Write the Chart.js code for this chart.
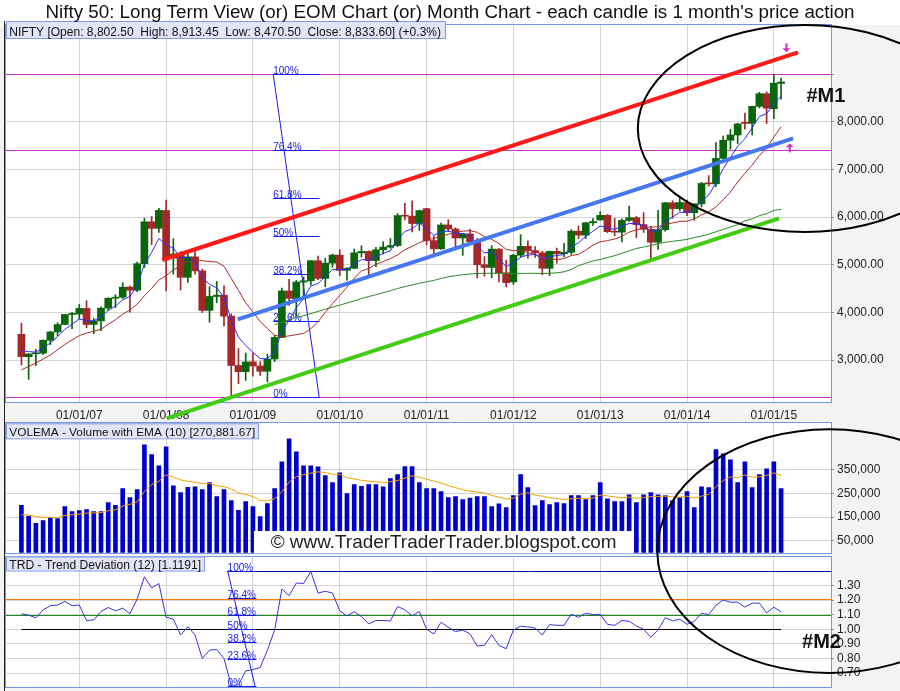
<!DOCTYPE html>
<html>
<head>
<meta charset="utf-8">
<title>Nifty 50 - monthly candles</title>
<script src="https://cdn.jsdelivr.net/npm/chart.js@4.4.1/dist/chart.umd.min.js"></script>
<style>
  html, body { margin: 0; padding: 0; background: #f3f3f3; }
  #page { position: relative; width: 900px; height: 691px; background: #f3f3f3; overflow: hidden; }
  #band { position: absolute; left: 0; top: 0; width: 900px; height: 25px; background: #fff; }
  #edge { position: absolute; left: 4px; top: 21px; width: 1px; height: 670px; background: #222; }
  canvas { position: absolute; left: 0; }
</style>
</head>
<body>
<div id="page">
  <div id="band"></div>
  <div id="edge"></div>
  <canvas id="price" width="900" height="421" style="top:0px"></canvas>
  <canvas id="volume" width="900" height="153" style="top:411px"></canvas>
  <canvas id="trd" width="900" height="147" style="top:544px"></canvas>
</div>
<script>
var FONT = '"Liberation Sans", Arial, sans-serif';
Chart.defaults.font.family = FONT;
Chart.defaults.font.size = 12;
Chart.defaults.color = '#222';

// ---- data (monthly, May 2006 .. Feb 2015) ----
var months = [
  '2006-05','2006-06','2006-07','2006-08','2006-09','2006-10','2006-11','2006-12',
  '2007-01','2007-02','2007-03','2007-04','2007-05','2007-06','2007-07','2007-08','2007-09','2007-10','2007-11','2007-12',
  '2008-01','2008-02','2008-03','2008-04','2008-05','2008-06','2008-07','2008-08','2008-09','2008-10','2008-11','2008-12',
  '2009-01','2009-02','2009-03','2009-04','2009-05','2009-06','2009-07','2009-08','2009-09','2009-10','2009-11','2009-12',
  '2010-01','2010-02','2010-03','2010-04','2010-05','2010-06','2010-07','2010-08','2010-09','2010-10','2010-11','2010-12',
  '2011-01','2011-02','2011-03','2011-04','2011-05','2011-06','2011-07','2011-08','2011-09','2011-10','2011-11','2011-12',
  '2012-01','2012-02','2012-03','2012-04','2012-05','2012-06','2012-07','2012-08','2012-09','2012-10','2012-11','2012-12',
  '2013-01','2013-02','2013-03','2013-04','2013-05','2013-06','2013-07','2013-08','2013-09','2013-10','2013-11','2013-12',
  '2014-01','2014-02','2014-03','2014-04','2014-05','2014-06','2014-07','2014-08','2014-09','2014-10','2014-11','2014-12',
  '2015-01','2015-02'
];

var openP = [
  3540,3070,3130,3144,3413,3590,3745,3956,3966,4083,
  3747,3821,4089,4297,4318,4530,4465,5022,5900,5763,
  6137,5137,5223,4735,5165,4870,4041,4333,4360,3921,
  2885,2755,2963,2874,2763,3021,3474,4450,4292,4636,
  4662,5083,4712,5032,5201,4882,4923,5249,5278,5087,
  5313,5368,5402,6030,6018,5863,6177,5506,5333,5834,
  5749,5560,5647,5482,5001,4943,5327,4832,4640,5199,
  5385,5296,5248,4924,5279,5229,5259,5703,5620,5880,
  5938,6035,5693,5683,5930,5986,5842,5742,5472,5735,
  6299,6176,6301,6090,6277,6704,6696,7230,7611,7721,
  7970,7965,8322,8588,8272,8802.5
];
var highP = [
  3774,3134,3226,3426,3603,3782,3961,3998,4167,4245,
  3875,4117,4307,4370,4620,4550,5055,5976,6011,6185,
  6357,5545,5272,5230,5298,4908,4539,4649,4558,3969,
  3240,3147,3147,2969,3123,3517,4509,4693,4670,4743,
  5087,5181,5138,5221,5311,4938,5329,5399,5290,5366,
  5477,5549,6073,6285,6338,6147,6182,5600,5872,5944,
  5775,5657,5740,5551,5169,5399,5340,5099,5217,5630,
  5499,5379,5279,5286,5348,5448,5735,5815,5885,5965,
  6112,6053,5971,5962,6229,6012,6093,5808,6142,6309,
  6342,6415,6358,6282,6730,6870,7563,7700,7841,7968,
  8180,8330,8617,8627,8996,8913.45
];
var lowP = [
  2896,2595,2879,3113,3323,3507,3739,3657,3862,3675,
  3554,3617,4045,4100,4290,4002,4433,4940,5419,5676,
  4448,4803,4468,4628,4801,3996,3791,4201,3715,2252,
  2502,2570,2661,2677,2539,2965,3468,4143,3918,4353,
  4576,4687,4538,4944,4766,4675,4918,5160,4786,4961,
  5225,5349,5380,5937,5690,5721,5416,5178,5320,5693,
  5328,5196,5453,4720,4758,4728,4640,4531,4588,5159,
  5135,5154,4788,4770,5032,5164,5215,5548,5548,5823,
  5935,5671,5604,5477,5910,5566,5676,5119,5318,5701,
  5972,6130,6027,5933,6212,6650,6638,7220,7422,7541,
  7841,7724,8290,7961,8065,8470.5
];
var closeP = [
  3071,3128,3143,3413,3588,3744,3955,3966,4082,3745,
  3822,4087,4296,4318,4529,4464,5021,5900,5762,6139,
  5137,5224,4735,5165,4870,4041,4333,4360,3921,2885,
  2755,2959,2874,2763,3021,3474,4449,4291,4636,4662,
  5084,4712,5033,5201,4882,4922,5249,5278,5087,5313,
  5368,5402,6030,6018,5863,6135,5506,5333,5834,5749,
  5560,5647,5482,5001,4943,5327,4832,4624,5199,5385,
  5296,5248,4924,5279,5229,5259,5703,5620,5880,5905,
  6035,5693,5683,5930,5986,5842,5742,5472,5735,6299,
  6176,6304,6090,6277,6704,6696,7230,7611,7721,7954,
  7965,8322,8588,8283,8809,8833.6
];
// thin blue average
var fastAvg = [
  3200,3176,3165,3248,3361,3489,3644,3751,3861,3822,
  3822,3910,4039,4132,4264,4331,4561,5007,5259,5552,
  5414,5351,5146,5152,5058,4719,4590,4513,4316,3839,
  3478,3305,3161,3028,3026,3175,3600,3830,4099,4287,
  4553,4606,4748,4899,4893,4903,5018,5105,5099,5170,
  5236,5291,5537,5697,5752,5880,5755,5614,5687,5708,
  5659,5655,5597,5398,5246,5273,5126,4959,5039,5154,
  5201,5217,5119,5172,5191,5214,5377,5458,5599,5701,
  5812,5772,5742,5805,5865,5857,5819,5703,5714,5909,
  5998,6100,6097,6157,6339,6458,6715,7014,7250,7485,
  7645,7871,8110,8168,8382,8533
];
// thin red average
var midAvg = [
  2791,2866,2935,3021,3103,3218,3326,3420,3511,3566,
  3601,3645,3747,3847,3962,4050,4169,4349,4499,4680,
  4768,4892,4968,5058,5105,5082,5066,5057,4966,4714,
  4464,4199,4010,3805,3662,3521,3486,3507,3532,3558,
  3654,3807,3997,4183,4351,4531,4716,4867,4920,5005,
  5066,5128,5206,5315,5384,5462,5514,5549,5597,5637,
  5676,5704,5713,5680,5589,5532,5446,5320,5294,5299,
  5254,5212,5159,5128,5107,5129,5192,5217,5304,5411,
  5480,5506,5538,5595,5684,5730,5773,5791,5794,5850,
  5875,5908,5913,5961,6046,6110,6214,6361,6526,6733,
  6919,7088,7289,7453,7680,7893
];
// thin green average (starts Apr 2009)
var slowAvg = Array(35).fill(null).concat([
  3740,3790,3840,3890,3930,
  3975,4020,4065,4110,4150,4195,4240,4290,4330,4370,
  4410,4455,4500,4540,4575,4610,4640,4670,4710,4745,
  4770,4790,4805,4815,4818,4820,4818,4815,4815,4818,
  4818,4820,4815,4818,4830,4850,4900,4980,5030,5080,
  5110,5150,5190,5240,5290,5340,5370,5400,5440,5470,
  5490,5510,5530,5570,5600,5640,5690,5740,5790,5840,
  5920,5960,6030,6070,6140,6160
]);
var volume = [
  200000,154000,124000,135000,148000,144000,195000,173000,178000,182000,
  173000,173000,212000,200000,271000,233000,267000,457000,415000,368000,
  448000,283000,254000,276000,279000,267000,296000,237000,267000,220000,
  179000,216000,195000,152000,207000,271000,385000,482000,427000,368000,
  368000,363000,326000,296000,338000,250000,288000,281000,288000,288000,
  279000,313000,330000,364000,364000,296000,271000,271000,258000,233000,
  237000,224000,231000,237000,237000,195000,206000,190000,241000,330000,
  275000,199000,220000,203000,212000,207000,241000,241000,224000,241000,
  296000,228000,216000,216000,245000,212000,245000,254000,245000,241000,
  220000,233000,258000,190000,279000,275000,436000,419000,393000,296000,
  385000,275000,330000,355000,385000,270882
];
var volumeEma = [
  160000,159000,153000,149000,149000,148000,157000,160000,163000,167000,
  168000,169000,177000,181000,197000,204000,215000,259000,288000,302000,
  329000,320000,308000,302000,298000,292000,293000,283000,280000,269000,
  253000,246000,237000,221000,219000,228000,257000,298000,321000,330000,
  337000,342000,339000,331000,332000,317000,312000,306000,303000,300000,
  297000,300000,305000,316000,325000,319000,311000,303000,295000,284000,
  275000,266000,260000,256000,252000,242000,235000,227000,230000,248000,
  253000,243000,239000,232000,229000,225000,228000,230000,229000,231000,
  243000,240000,236000,232000,235000,230000,233000,237000,238000,239000,
  236000,235000,239000,230000,239000,246000,280000,305000,321000,317000,
  329000,319000,321000,327000,338000,326000
];
var trendDev = [
  1.106,1.097,1.078,1.133,1.161,1.166,1.191,1.161,1.166,1.060,
  1.064,1.122,1.149,1.126,1.145,1.106,1.207,1.359,1.283,1.313,
  1.083,1.069,0.961,1.018,0.961,0.800,0.857,0.862,0.800,0.616,
  0.620,0.715,0.724,0.738,0.857,0.995,1.276,1.230,1.317,1.313,
  1.395,1.248,1.260,1.248,1.126,1.092,1.120,1.087,1.037,1.060,
  1.060,1.057,1.156,1.133,1.092,1.122,1.000,0.968,1.048,1.014,
  0.984,0.995,0.968,0.886,0.890,0.963,0.890,0.867,0.995,1.021,
  1.016,1.009,0.961,1.032,1.027,1.027,1.103,1.082,1.110,1.100,
  1.103,1.034,1.027,1.060,1.055,1.023,1.000,0.945,0.995,1.080,
  1.057,1.069,1.034,1.053,1.110,1.100,1.165,1.200,1.185,1.185,
  1.151,1.179,1.179,1.112,1.151,1.119
];

var xTickIdx = [8, 20, 32, 44, 56, 68, 80, 92, 104];
var xTickLabels = ['01/01/07','01/01/08','01/01/09','01/01/10','01/01/11','01/01/12','01/01/13','01/01/14','01/01/15'];
var priceGrid = [3000, 4000, 5000, 6000, 7000, 8000, 9000];
var priceTicks = [3000, 4000, 5000, 6000, 7000, 8000];
var volTicks = [50000, 150000, 250000, 350000];
var trdTicks = [0.7, 0.8, 0.9, 1.0, 1.1, 1.2, 1.3];
var fibPct = [0, 23.6, 38.2, 50, 61.8, 76.4, 100];
var priceLevels = [9000, 7400, 2218];

// ---- drawings (data units) ----
var trendLines = [
  { color: '#ff1a1a', from: [19.47, 5098], to: [107.35, 9456] },
  { color: '#4676f0', from: [29.89, 3854], to: [106.66, 7652] },
  { color: '#44cc14', from: [20.08, 1777], to: [104.72, 5973] }
];
var priceFib = { x0: 34.8, x1: 41.2, diagEnd: 41.16, low: 2218, high: 9000 };
var trdFib = { x0: 28.5, x1: 32.5, diagEnd: 32.3, low: 0.61, high: 1.40 };
var priceEllipse = { x: 108.3, y: 7857, rx: 23.1, ry: 2172 };
var lowerEllipse = { x: 111.7, y: 6000, rx: 23.8, ry: 517000 };
var priceArrows = [ { x: 105.75, from: 9644, to: 9455 }, { x: 106.2, from: 7358, to: 7547 } ];

var X_MIN = -2.13, X_MAX = 111.9;
var TOP_P = 0, TOP_V = 411, TOP_T = 544;
var UP = '#0b650b', DOWN = '#a3282a';
var candleColors = closeP.map(function (c, i) { return c >= openP[i] ? UP : DOWN; });

function pts(arr) { return arr.map(function (v, i) { return { x: i, y: v }; }); }
function fmt2(v) { return v.toLocaleString('en-US', { minimumFractionDigits: 2, maximumFractionDigits: 2 }); }

function fitFont(g, text, width, weight) {
  g.font = weight + ' 12px ' + FONT;
  var s = 12 * width / g.measureText(text).width;
  g.font = weight + ' ' + s.toFixed(2) + 'px ' + FONT;
}

function headerBox(g, left, top, w, h, text, textW) {
  g.fillStyle = '#e4e4f7';
  g.fillRect(left, top, w, h);
  g.strokeStyle = '#7d9be6';
  g.lineWidth = 1;
  g.strokeRect(left + 0.5, top + 0.5, w, h);
  fitFont(g, text, textW, 'normal');
  g.fillStyle = '#111';
  g.textBaseline = 'alphabetic';
  g.textAlign = 'left';
  g.fillText(text, left + 3.3, top + h - 2);
}

function hLine(g, x0, x1, py, color) {
  py = Math.round(py) + 0.5;
  g.strokeStyle = color;
  g.lineWidth = 1;
  g.beginPath(); g.moveTo(x0, py); g.lineTo(x1, py); g.stroke();
}

function drawFib(c, f) {
  var g = c.ctx, x = c.scales.x, y = c.scales.y;
  var x0 = x.getPixelForValue(f.x0), x1 = x.getPixelForValue(f.x1);
  g.font = '10px ' + FONT;
  g.textBaseline = 'alphabetic';
  g.textAlign = 'left';
  fibPct.forEach(function (p) {
    var py = y.getPixelForValue(f.low + (f.high - f.low) * p / 100);
    hLine(g, x0, x1, py, '#1a1ae6');
    g.fillStyle = '#1a1ae6';
    g.fillText(p + '%', x0, Math.round(py) - 0.5);
  });
  g.beginPath();
  g.moveTo(x0, y.getPixelForValue(f.high));
  g.lineTo(x.getPixelForValue(f.diagEnd), y.getPixelForValue(f.low));
  g.stroke();
}

function drawArrow(g, px, yTail, yTip) {
  var d = yTip > yTail ? 1 : -1;
  g.fillStyle = '#cc33cc';
  g.strokeStyle = '#cc33cc';
  g.lineWidth = 2;
  g.beginPath(); g.moveTo(px, yTail); g.lineTo(px, yTip - d * 3); g.stroke();
  g.beginPath();
  g.moveTo(px - 4, yTip - d * 4); g.lineTo(px + 4, yTip - d * 4); g.lineTo(px, yTip);
  g.closePath(); g.fill();
}

function ellipsePx(chart, e) {
  var x = chart.scales.x, y = chart.scales.y;
  var cy = y.getPixelForValue(e.y);
  return {
    cx: x.getPixelForValue(e.x), cy: cy,
    rx: e.rx * (x.getPixelForValue(1) - x.getPixelForValue(0)),
    ry: Math.abs(y.getPixelForValue(e.y + e.ry) - cy)
  };
}

function strokeEllipse(g, p) {
  g.strokeStyle = '#000';
  g.lineWidth = 2;
  g.beginPath();
  g.ellipse(p.cx, p.cy, p.rx, p.ry, 0, 0, Math.PI * 2);
  g.stroke();
}

var frame = {
  id: 'frame',
  beforeDraw: function (c) {
    var a = c.chartArea, g = c.ctx;
    g.save();
    g.fillStyle = '#fff';
    g.fillRect(a.left, a.top, a.right - a.left, a.bottom - a.top);
    g.restore();
  },
  beforeDatasetsDraw: function (c) {
    var a = c.chartArea, g = c.ctx;
    g.save();
    g.strokeStyle = '#7397e8';
    g.lineWidth = 1;
    g.strokeRect(Math.round(a.left) - 0.5, Math.round(a.top) - 0.5,
                 Math.round(a.right - a.left) + 1, Math.round(a.bottom - a.top) + 1);
    g.restore();
  }
};

function xScale(showLabels, height) {
  return {
    type: 'linear', min: X_MIN, max: X_MAX, offset: false,
    afterBuildTicks: function (s) { s.ticks = xTickIdx.map(function (v) { return { value: v }; }); },
    ticks: {
      display: showLabels, autoSkip: false, maxRotation: 0, padding: 6, color: '#222',
      callback: function (v) { return xTickLabels[xTickIdx.indexOf(v)]; }
    },
    grid: { color: '#d4d4d4', drawTicks: false, offset: false },
    border: { display: false },
    afterFit: function (s) { s.height = height; s.paddingLeft = 0; s.paddingRight = 0; }
  };
}

function yScale(min, max, grid, labelFn) {
  return {
    position: 'right', min: min, max: max, beginAtZero: false,
    afterBuildTicks: function (s) { s.ticks = grid.map(function (v) { return { value: v }; }); },
    ticks: { callback: labelFn, padding: 3, color: '#222' },
    grid: { color: '#d4d4d4', tickLength: 3, tickColor: '#7397e8' },
    border: { display: false },
    afterFit: function (s) { s.width = 69; s.paddingTop = 0; s.paddingBottom = 0; }
  };
}

var baseOptions = function (top, scales) {
  return {
    responsive: false, animation: false, events: [],
    layout: { padding: { top: top, left: 6, right: 0, bottom: 0 } },
    plugins: { legend: { display: false }, tooltip: { enabled: false } },
    scales: scales
  };
};

// ---- price panel ----
var priceDeco = {
  id: 'priceDeco',
  beforeDatasetsDraw: function (c) {
    var g = c.ctx, a = c.chartArea, y = c.scales.y;
    g.save();
    priceLevels.forEach(function (v) { hLine(g, a.left, a.right, y.getPixelForValue(v), '#cc33cc'); });
    drawFib(c, priceFib);
    g.restore();
  },
  afterDraw: function (c) {
    var g = c.ctx, x = c.scales.x, y = c.scales.y, a = c.chartArea;
    g.save();
    strokeEllipse(g, ellipsePx(c, priceEllipse));
    priceArrows.forEach(function (ar) {
      drawArrow(g, x.getPixelForValue(ar.x), y.getPixelForValue(ar.from), y.getPixelForValue(ar.to));
    });
    g.fillStyle = '#111';
    g.font = 'bold 20px ' + FONT;
    g.textBaseline = 'alphabetic';
    g.textAlign = 'left';
    g.fillText('#M1', x.getPixelForValue(108.5), y.getPixelForValue(8420));
    headerBox(g, a.left, a.top - 4, 439, 17,
      'NIFTY [Open: 8,802.50  High: 8,913.45  Low: 8,470.50  Close: 8,833.60] (+0.3%)', 432);
    var title = "Nifty 50: Long Term View (or) EOM Chart (or) Month Chart - each candle is 1 month's price action";
    fitFont(g, title, 810, 'normal');
    g.fillStyle = '#111';
    g.textAlign = 'center';
    g.fillText(title, 450, 17.5);
    g.restore();
  }
};

var priceSets = trendLines.map(function (t) {
  return {
    type: 'line', data: [{ x: t.from[0], y: t.from[1] }, { x: t.to[0], y: t.to[1] }],
    borderColor: t.color, borderWidth: 4, pointRadius: 0, clip: false, order: 0
  };
}).concat([
  { type: 'line', data: pts(fastAvg), borderColor: '#2b2bff', borderWidth: 1, pointRadius: 0, order: 2 },
  { type: 'line', data: pts(midAvg), borderColor: '#b02a2a', borderWidth: 1, pointRadius: 0, order: 2 },
  { type: 'line', data: pts(slowAvg), borderColor: '#2a8a2a', borderWidth: 1, pointRadius: 0, order: 2 },
  { data: months.map(function (m, i) { return { x: i, y: [openP[i], closeP[i]] }; }),
    backgroundColor: candleColors, barThickness: 7, grouped: false, minBarLength: 1, order: 3 },
  { data: months.map(function (m, i) { return { x: i, y: [lowP[i], highP[i]] }; }),
    backgroundColor: candleColors, barThickness: 1, grouped: false, order: 4 }
]);

var priceChart = new Chart(document.getElementById('price'), {
  type: 'bar',
  data: { datasets: priceSets },
  options: baseOptions(25, {
    x: xScale(true, 19),
    y: yScale(2119, 10029, priceGrid, function (v) { return priceTicks.indexOf(v) >= 0 ? fmt2(v) : ''; })
  }),
  plugins: [frame, priceDeco]
});

// ---- volume panel ----
var volDeco = {
  id: 'volDeco',
  afterDatasetsDraw: function (c) {
    var g = c.ctx, x = c.scales.x, a = c.chartArea;
    var x0 = x.getPixelForValue(32.14), x1 = x.getPixelForValue(84.6);
    g.save();
    g.fillStyle = '#fff';
    g.fillRect(x0, a.bottom - 22.3, x1 - x0, 22.3);
    var wm = '\u00a9 www.TraderTraderTrader.blogspot.com';
    fitFont(g, wm, 346, 'normal');
    g.fillStyle = '#222';
    g.textBaseline = 'alphabetic';
    g.textAlign = 'left';
    g.fillText(wm, x.getPixelForValue(34.45), a.bottom - 5.3);
    g.restore();
  },
  afterDraw: function (c) {
    var g = c.ctx, a = c.chartArea;
    g.save();
    headerBox(g, a.left, a.top, 252, 15, 'VOLEMA - Volume with EMA (10) [270,881.67]', 246);
    g.beginPath();
    g.rect(0, 0, 900, 554 - TOP_V);
    g.clip();
    strokeEllipse(g, ellipsePx(c, lowerEllipse));
    g.restore();
  }
};

var volChart = new Chart(document.getElementById('volume'), {
  type: 'bar',
  data: {
    datasets: [
      { type: 'line', data: pts(volumeEma), borderColor: '#f5a300', borderWidth: 1, pointRadius: 0, order: 0 },
      { data: pts(volume), backgroundColor: '#0000cc', barThickness: 4, order: 1 }
    ]
  },
  options: baseOptions(12.3, {
    x: xScale(false, 10.7),
    y: yScale(-3500, 548000, volTicks, function (v) { return v.toLocaleString('en-US'); })
  }),
  plugins: [frame, volDeco]
});

// ---- trend deviation panel ----
var trdDeco = {
  id: 'trdDeco',
  beforeDatasetsDraw: function (c) {
    var g = c.ctx, a = c.chartArea, x = c.scales.x, y = c.scales.y;
    g.save();
    hLine(g, a.left, a.right, y.getPixelForValue(1.209), '#ff7a00');
    hLine(g, a.left, a.right, y.getPixelForValue(1.096), '#1a8a1a');
    hLine(g, x.getPixelForValue(0), x.getPixelForValue(105), y.getPixelForValue(1.0), '#000');
    hLine(g, x.getPixelForValue(trdFib.x0), a.right, y.getPixelForValue(trdFib.high), '#0a0aa0');
    drawFib(c, trdFib);
    g.restore();
  },
  afterDraw: function (c) {
    var g = c.ctx, a = c.chartArea, x = c.scales.x, y = c.scales.y;
    g.save();
    headerBox(g, a.left, a.top, 198, 14, 'TRD - Trend Deviation (12) [1.1191]', 192);
    g.fillStyle = '#111';
    g.font = 'bold 20px ' + FONT;
    g.textBaseline = 'alphabetic';
    g.textAlign = 'left';
    g.fillText('#M2', x.getPixelForValue(107.9), y.getPixelForValue(0.87));
    var p = ellipsePx(volChart, lowerEllipse);
    p.cy = p.cy + TOP_V - TOP_T;
    g.beginPath();
    g.rect(0, 554 - TOP_T, 900, 200);
    g.clip();
    strokeEllipse(g, p);
    g.restore();
  }
};

var trdChart = new Chart(document.getElementById('trd'), {
  type: 'line',
  data: {
    datasets: [
      { data: pts(trendDev), borderColor: '#3535e0', borderWidth: 1, pointRadius: 0 }
    ]
  },
  options: baseOptions(12.5, {
    x: xScale(false, 4.3),
    y: yScale(0.607, 1.498, trdTicks, function (v) { return v.toFixed(2); })
  }),
  plugins: [frame, trdDeco]
});
</script>
</body>
</html>
